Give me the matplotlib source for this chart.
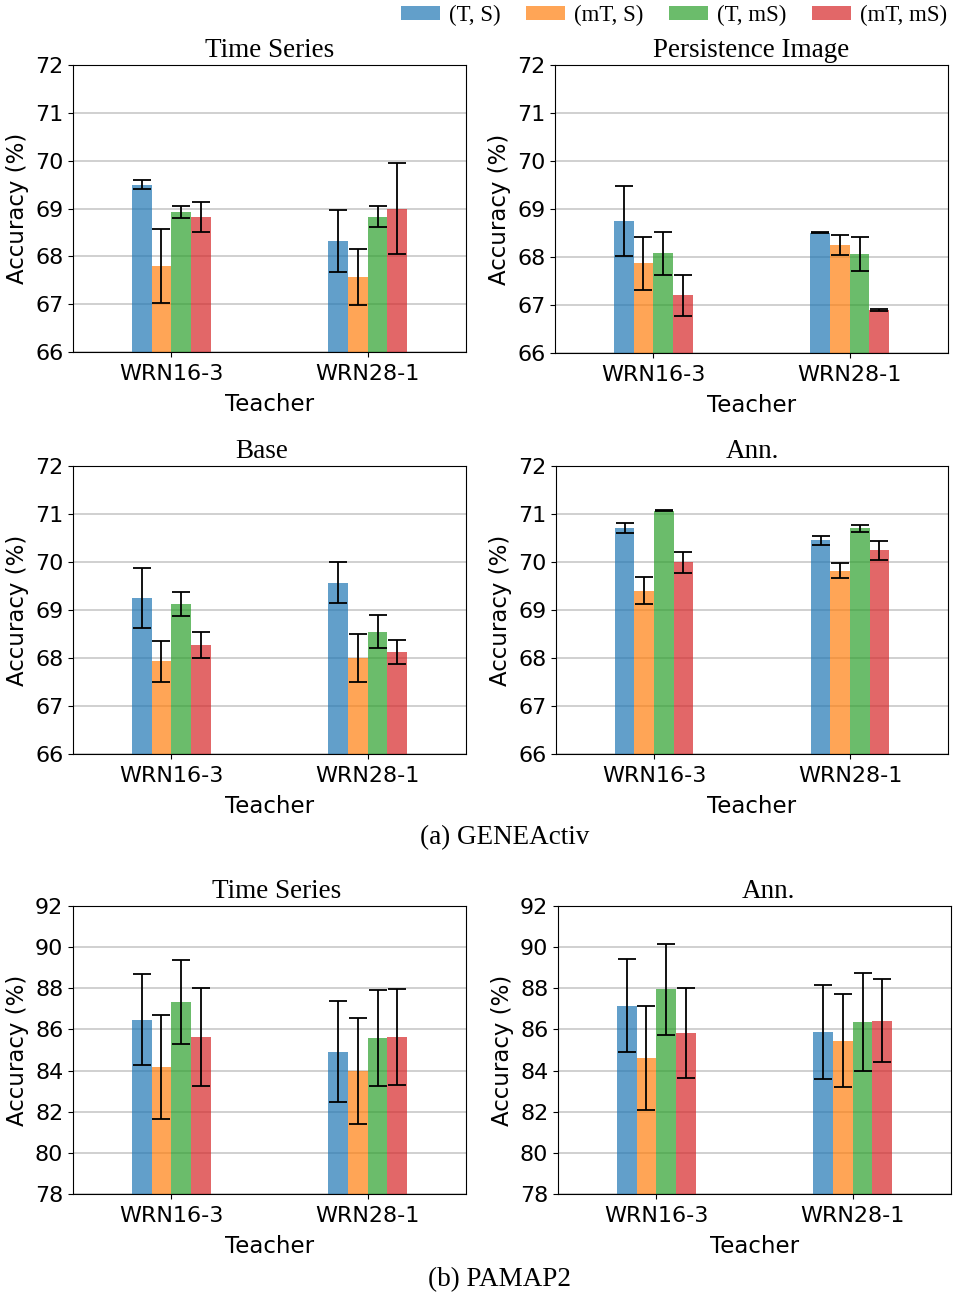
import matplotlib
matplotlib.use("Agg")
import matplotlib.pyplot as plt
import numpy as np

teachers = ["WRN16-3", "WRN28-1"]
settings = ["(T, S)", "(mT, S)", "(T, mS)", "(mT, mS)"]
colors = ["tab:blue", "tab:orange", "tab:green", "tab:red"]

# GENEActiv, rows = settings, cols = teachers
gene_ts_mean = [[69.50, 68.32], [67.80, 67.57], [68.93, 68.83], [68.82, 69.00]]
gene_ts_std = [[0.10, 0.64], [0.77, 0.58], [0.13, 0.22], [0.31, 0.95]]

gene_pi_mean = [[68.75, 68.51], [67.87, 68.25], [68.08, 68.06], [67.20, 66.90]]
gene_pi_std = [[0.73, 0.01], [0.55, 0.20], [0.45, 0.36], [0.43, 0.02]]

gene_base_mean = [[69.25, 69.57], [67.93, 67.99], [69.12, 68.55], [68.27, 68.13]]
gene_base_std = [[0.62, 0.42], [0.43, 0.50], [0.25, 0.35], [0.28, 0.25]]

gene_ann_mean = [[70.71, 70.45], [69.40, 69.82], [71.07, 70.70], [69.99, 70.24]]
gene_ann_std = [[0.11, 0.09], [0.28, 0.16], [0.01, 0.07], [0.21, 0.20]]

# PAMAP2
pamap_ts_mean = [[86.48, 84.91], [84.17, 83.97], [87.34, 85.58], [85.64, 85.65]]
pamap_ts_std = [[2.21, 2.45], [2.54, 2.58], [2.03, 2.35], [2.37, 2.33]]

pamap_ann_mean = [[87.16, 85.88], [84.60, 85.46], [87.95, 86.37], [85.82, 86.43]]
pamap_ann_std = [[2.27, 2.27], [2.54, 2.24], [2.20, 2.38], [2.18, 2.00]]

W, H = 956, 1302


def pos(l, r, t, b):
    return [l / W, 1 - b / H, (r - l) / W, (b - t) / H]


def draw(ax, means, stds, title, ylim, yticks, tx=0.5):
    x = np.arange(len(teachers))
    width = 0.1
    for i in range(len(settings)):
        ax.bar(x + (i - 1.5) * width, means[i], width, yerr=stds[i],
               color=colors[i], alpha=0.7, label=settings[i],
               capsize=6.5, error_kw=dict(elinewidth=1.3, capthick=1.3, ecolor="black"))
    ax.set_xlim(-0.5, 1.5)
    ax.set_ylim(*ylim)
    ax.set_yticks(yticks)
    ax.set_xticks(x)
    ax.set_xticklabels(teachers)
    ax.tick_params(labelsize=16)
    ax.tick_params(axis="x", pad=5.5)
    ax.set_xlabel("Teacher", fontsize=16.5, labelpad=6)
    ax.set_ylabel("Accuracy (%)", fontsize=16.5)
    ax.yaxis.grid(True, color="#c4c4c4", linewidth=1.1)
    ax.set_axisbelow(True)
    ax.set_title(title, fontsize=19.5, family="Liberation Serif", pad=6, x=tx)


fig = plt.figure(figsize=(W / 100, H / 100), dpi=100)

ax1 = fig.add_axes(pos(73, 466, 65, 352))
draw(ax1, gene_ts_mean, gene_ts_std, "Time Series", (66, 72), range(66, 73))
ax2 = fig.add_axes(pos(555, 948, 65, 353))
draw(ax2, gene_pi_mean, gene_pi_std, "Persistence Image", (66, 72), range(66, 73))
ax3 = fig.add_axes(pos(73, 466, 466, 754))
draw(ax3, gene_base_mean, gene_base_std, "Base", (66, 72), range(66, 73), tx=0.48)
ax4 = fig.add_axes(pos(556, 948, 466, 754))
draw(ax4, gene_ann_mean, gene_ann_std, "Ann.", (66, 72), range(66, 73))
ax5 = fig.add_axes(pos(73, 466, 906, 1194))
draw(ax5, pamap_ts_mean, pamap_ts_std, "Time Series", (78, 92), range(78, 93, 2), tx=0.517)
ax6 = fig.add_axes(pos(558, 951, 906, 1194))
draw(ax6, pamap_ann_mean, pamap_ann_std, "Ann.", (78, 92), range(78, 93, 2), tx=0.535)

fig.text(505 / W, 1 - 838 / H, "(a) GENEActiv", ha="center", va="center",
         fontsize=19.5, family="Liberation Serif")
fig.text(500 / W, 1 - 1280 / H, "(b) PAMAP2", ha="center", va="center",
         fontsize=19.5, family="Liberation Serif")

handles, labels = ax1.get_legend_handles_labels()
fig.legend(handles, labels, loc="upper right", bbox_to_anchor=(1.012, 1.012), ncol=4,
           frameon=False, prop={"family": "Liberation Serif", "size": 16.5},
           handlelength=1.7, handleheight=0.5, handletextpad=0.4, columnspacing=1.1)

fig.savefig("out.png", dpi=100)
